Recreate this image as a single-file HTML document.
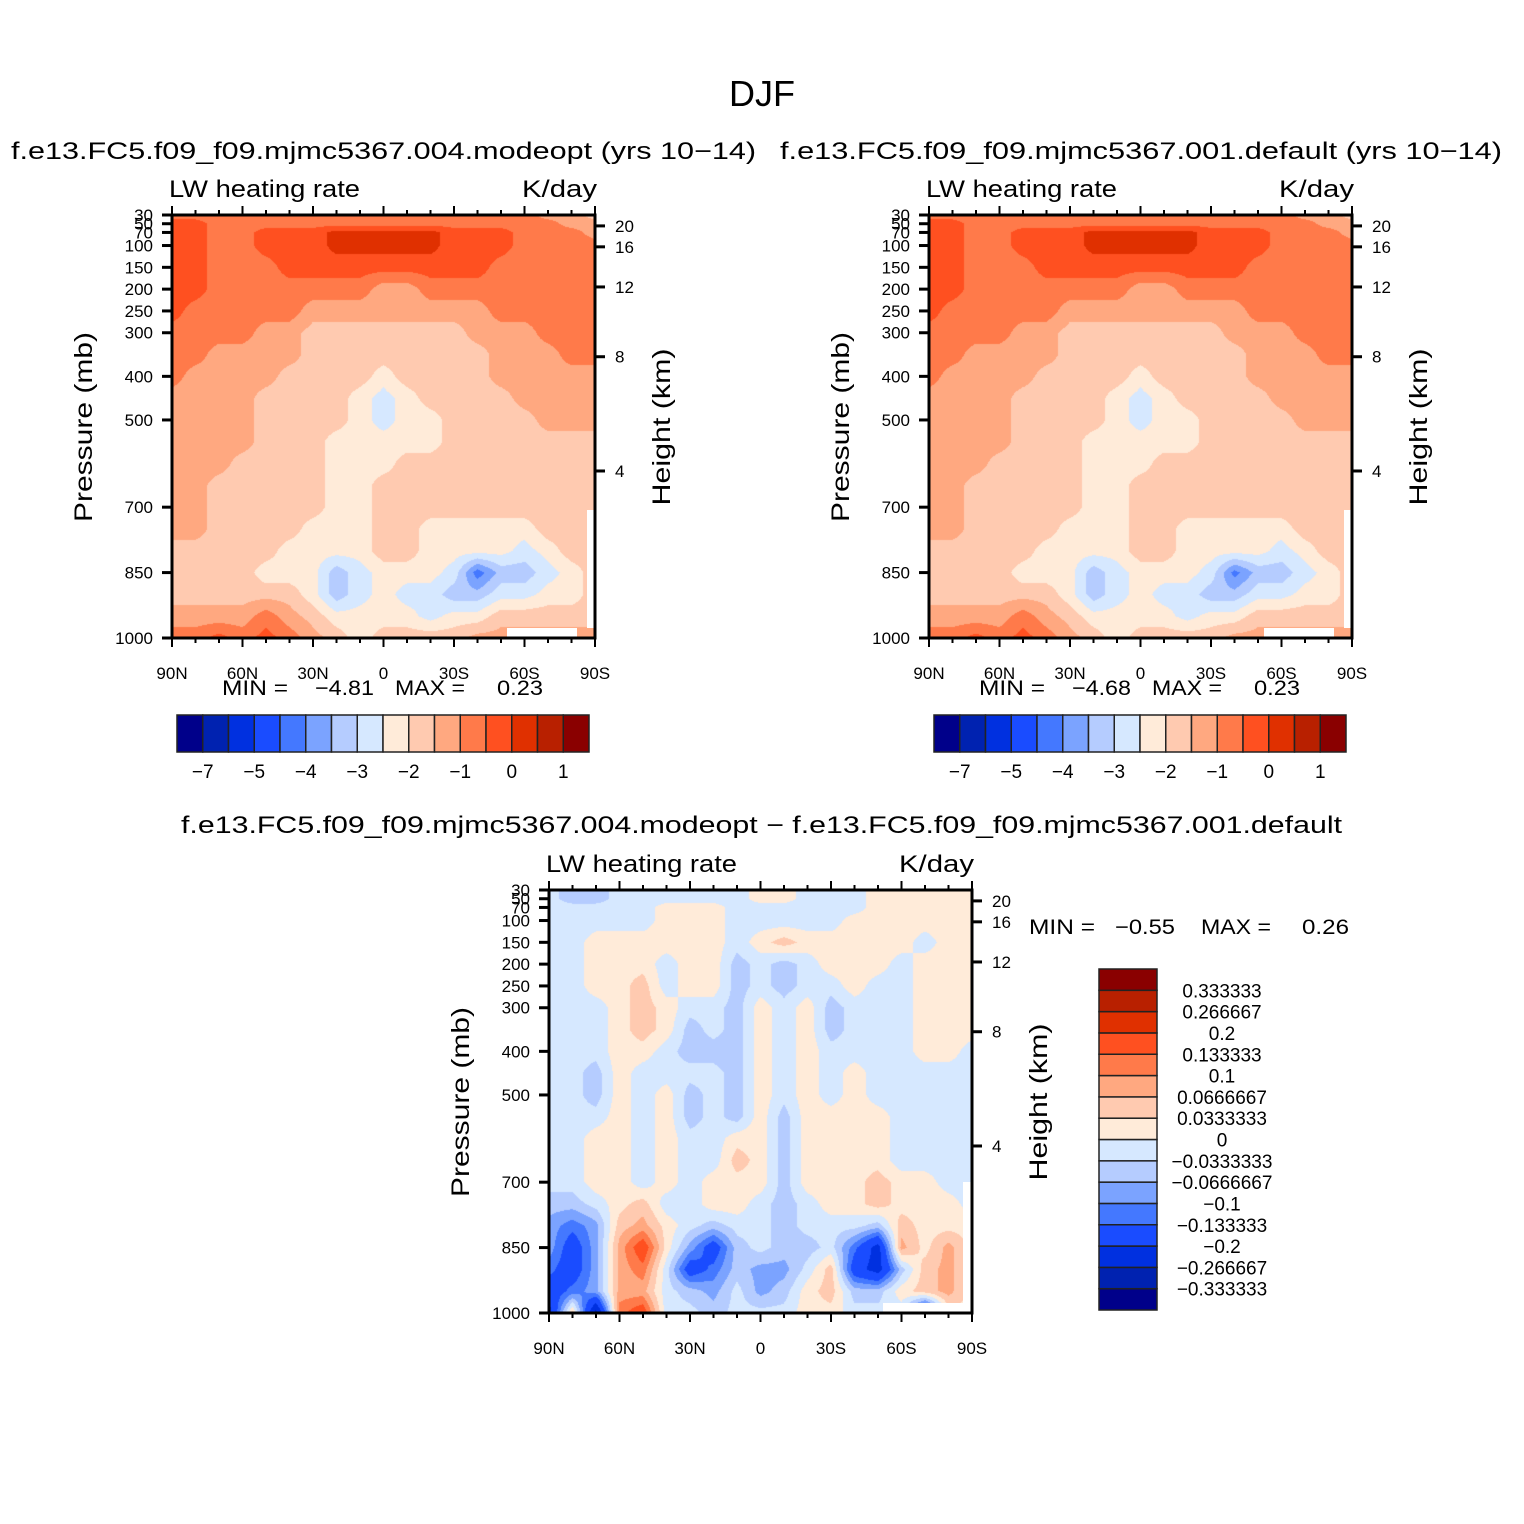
<!DOCTYPE html>
<html><head><meta charset="utf-8">
<style>
html,body{margin:0;padding:0;background:#fff;}
#root{position:relative;width:1524px;height:1524px;overflow:hidden;background:#fff;}
canvas{position:absolute;}
svg{position:absolute;left:0;top:0;}
text{font-family:"Liberation Sans",sans-serif;fill:#000;}
</style></head>
<body>
<div id="root">
<canvas id="c1" width="423" height="423" style="left:172px;top:215px"></canvas>
<canvas id="c2" width="423" height="423" style="left:929px;top:215px"></canvas>
<canvas id="c3" width="423" height="423" style="left:549px;top:890px"></canvas>
<svg id="ov" width="1524" height="1524">
<text x="762" y="106" font-size="36" text-anchor="middle">DJF</text>
<text x="11" y="159" font-size="24" textLength="745" lengthAdjust="spacingAndGlyphs">f.e13.FC5.f09_f09.mjmc5367.004.modeopt (yrs 10−14)</text>
<text x="780" y="159" font-size="24" textLength="722" lengthAdjust="spacingAndGlyphs">f.e13.FC5.f09_f09.mjmc5367.001.default (yrs 10−14)</text>
<text x="181" y="833" font-size="24" textLength="1161" lengthAdjust="spacingAndGlyphs">f.e13.FC5.f09_f09.mjmc5367.004.modeopt − f.e13.FC5.f09_f09.mjmc5367.001.default</text>
<text x="222" y="695" font-size="21" textLength="66" lengthAdjust="spacingAndGlyphs">MIN =</text>
<text x="315" y="695" font-size="21" textLength="59" lengthAdjust="spacingAndGlyphs">−4.81</text>
<text x="395" y="695" font-size="21" textLength="70" lengthAdjust="spacingAndGlyphs">MAX =</text>
<text x="497" y="695" font-size="21" textLength="46" lengthAdjust="spacingAndGlyphs">0.23</text>
<text x="979" y="695" font-size="21" textLength="66" lengthAdjust="spacingAndGlyphs">MIN =</text>
<text x="1072" y="695" font-size="21" textLength="59" lengthAdjust="spacingAndGlyphs">−4.68</text>
<text x="1152" y="695" font-size="21" textLength="70" lengthAdjust="spacingAndGlyphs">MAX =</text>
<text x="1254" y="695" font-size="21" textLength="46" lengthAdjust="spacingAndGlyphs">0.23</text>
<text x="1029" y="934" font-size="21" textLength="66" lengthAdjust="spacingAndGlyphs">MIN =</text>
<text x="1115" y="934" font-size="21" textLength="60" lengthAdjust="spacingAndGlyphs">−0.55</text>
<text x="1201" y="934" font-size="21" textLength="70" lengthAdjust="spacingAndGlyphs">MAX =</text>
<text x="1302" y="934" font-size="21" textLength="47" lengthAdjust="spacingAndGlyphs">0.26</text>
</svg>
</div>
<script>
// ---------- data ----------
const lats = [90,80,70,60,50,40,30,20,10,0,-10,-20,-30,-40,-50,-60,-70,-80,-90];
const plevs = [30,50,70,100,150,200,250,300,350,400,450,500,550,600,650,700,750,800,850,900,950,1000];
const pressureTicks = [1000,850,700,500,400,300,250,200,150,100,70,50,30];
const heightTicks = [4,8,12,16,20];
const heightTickPressures = [617,355,195,103,55];
const latTickLabels = ["90N","60N","30N","0","30S","60S","90S"];
const palette = ["#00008a","#0022b0","#0030e0","#1a4cff","#4478ff","#7ba3ff","#b5ccff","#d6e8ff","#ffebd9","#ffcab0","#ffa880","#ff7a4a","#ff5020","#e03000","#b82000","#8a0000"];
const levelsLW = [-7,-6,-5,-4.5,-4,-3.5,-3,-2.5,-2,-1.5,-1,-0.5,0,0.5,1];
const levelLabelsLW = ["−7","","−5","","−4","","−3","","−2","","−1","","0","","1"];
const levelsDiff = [-0.333333,-0.266667,-0.2,-0.133333,-0.1,-0.0666667,-0.0333333,0,0.0333333,0.0666667,0.1,0.133333,0.2,0.266667,0.333333];
const levelLabelsDiff = ["−0.333333","−0.266667","−0.2","−0.133333","−0.1","−0.0666667","−0.0333333","0","0.0333333","0.0666667","0.1","0.133333","0.2","0.266667","0.333333"];

const lwModeopt = [
[-0.7,-0.7,-0.7,-0.7,-0.7,-0.7,-0.7,-0.7,-0.7,-0.7,-0.7,-0.7,-0.7,-0.7,-0.7,-0.7,-1.3,-1.3,-1.7],
[-0.3,-0.3,-0.7,-0.7,-0.7,-0.7,-0.7,-0.7,-0.7,-0.7,-0.7,-0.7,-0.7,-0.7,-0.7,-0.7,-0.7,-1.3,-1.3],
[-0.3,-0.3,-0.7,-0.7,-0.3,-0.3,-0.3,0.2,0.2,0.2,0.2,0.2,-0.3,-0.3,-0.3,-0.7,-0.7,-0.7,-1.3],
[-0.3,-0.3,-0.7,-0.7,-0.3,-0.3,-0.3,0.2,0.2,0.2,0.2,0.2,-0.3,-0.3,-0.3,-0.7,-0.7,-0.7,-0.7],
[-0.3,-0.3,-0.7,-0.7,-0.7,-0.3,-0.3,-0.3,-0.3,-0.3,-0.3,-0.3,-0.3,-0.3,-0.7,-0.7,-0.7,-0.7,-0.7],
[-0.3,-0.3,-0.7,-0.7,-0.7,-0.7,-0.7,-0.7,-0.7,-1.3,-1.3,-0.7,-0.7,-0.7,-0.7,-0.7,-0.7,-0.7,-0.7],
[-0.3,-0.7,-0.7,-0.7,-0.7,-0.7,-1.3,-1.3,-1.3,-1.3,-1.3,-1.3,-1.3,-1.3,-0.7,-0.7,-0.7,-0.7,-0.7],
[-0.7,-0.7,-0.7,-0.7,-1.3,-1.3,-1.7,-1.7,-1.7,-1.7,-1.7,-1.7,-1.7,-1.3,-1.3,-1.3,-0.7,-0.7,-0.7],
[-0.7,-0.7,-1.3,-1.3,-1.3,-1.3,-1.7,-1.7,-1.7,-1.7,-1.7,-1.7,-1.7,-1.7,-1.3,-1.3,-1.3,-0.7,-0.7],
[-0.7,-1.3,-1.3,-1.3,-1.3,-1.7,-1.7,-1.7,-1.7,-2.3,-1.7,-1.7,-1.7,-1.7,-1.3,-1.3,-1.3,-1.3,-1.3],
[-1.3,-1.3,-1.3,-1.3,-1.7,-1.7,-1.7,-1.7,-2.3,-2.7,-2.3,-1.7,-1.7,-1.7,-1.7,-1.3,-1.3,-1.3,-1.3],
[-1.3,-1.3,-1.3,-1.3,-1.7,-1.7,-1.7,-1.7,-2.3,-2.7,-2.3,-2.3,-1.7,-1.7,-1.7,-1.7,-1.3,-1.3,-1.3],
[-1.3,-1.3,-1.3,-1.3,-1.7,-1.7,-1.7,-2.3,-2.3,-2.3,-2.3,-2.3,-1.7,-1.7,-1.7,-1.7,-1.7,-1.7,-1.7],
[-1.3,-1.3,-1.3,-1.7,-1.7,-1.7,-1.7,-2.3,-2.3,-2.3,-1.7,-1.7,-1.7,-1.7,-1.7,-1.7,-1.7,-1.7,-1.7],
[-1.3,-1.3,-1.7,-1.7,-1.7,-1.7,-1.7,-2.3,-2.3,-1.7,-1.7,-1.7,-1.7,-1.7,-1.7,-1.7,-1.7,-1.7,-1.7],
[-1.3,-1.3,-1.7,-1.7,-1.7,-1.7,-1.7,-2.3,-2.3,-1.7,-1.7,-1.7,-1.7,-1.7,-1.7,-1.7,-1.7,-1.7,-1.7],
[-1.3,-1.3,-1.7,-1.7,-1.7,-1.7,-2.3,-2.3,-2.3,-1.7,-1.7,-2.3,-2.3,-2.3,-2.3,-2.3,-1.7,-1.7,-1.7],
[-1.7,-1.7,-1.7,-1.7,-1.7,-2.3,-2.3,-2.3,-2.3,-1.7,-1.7,-2.3,-2.3,-2.3,-2.3,-2.7,-2.3,-1.7,-1.7],
[-1.7,-1.7,-1.7,-1.7,-2.3,-2.3,-2.3,-3.3,-2.7,-2.3,-2.3,-2.3,-2.7,-4.3,-3.3,-3.3,-2.7,-2.3,-1.7],
[-1.7,-1.7,-1.7,-1.7,-1.7,-1.7,-2.3,-3.3,-2.7,-2.3,-2.7,-2.7,-3.3,-3.3,-2.7,-2.7,-2.3,-2.3,-1.7],
[-1.3,-1.3,-1.3,-1.3,-0.7,-1.3,-1.7,-2.3,-2.3,-2.3,-2.3,-2.7,-2.3,-2.3,-1.7,-1.7,-1.7,-1.7,-1.7],
[-0.7,-0.7,-0.3,-0.7,-0.3,-0.7,-1.3,-1.7,-2.3,-1.7,-1.7,-1.7,-1.7,-1.3,-1.3,-1.3,-1.3,-1.3,-1.3]
];
const lwDefault = [
[-0.7,-0.7,-0.7,-0.7,-0.7,-0.7,-0.7,-0.7,-0.7,-0.7,-0.7,-0.7,-0.7,-0.7,-0.7,-0.7,-1.3,-1.3,-1.7],
[-0.3,-0.3,-0.7,-0.7,-0.7,-0.7,-0.7,-0.7,-0.7,-0.7,-0.7,-0.7,-0.7,-0.7,-0.7,-0.7,-0.7,-1.3,-1.3],
[-0.3,-0.3,-0.7,-0.7,-0.3,-0.3,-0.3,0.2,0.2,0.2,0.2,0.2,-0.3,-0.3,-0.3,-0.7,-0.7,-0.7,-1.3],
[-0.3,-0.3,-0.7,-0.7,-0.3,-0.3,-0.3,0.2,0.2,0.2,0.2,0.2,-0.3,-0.3,-0.3,-0.7,-0.7,-0.7,-0.7],
[-0.3,-0.3,-0.7,-0.7,-0.7,-0.3,-0.3,-0.3,-0.3,-0.3,-0.3,-0.3,-0.3,-0.3,-0.7,-0.7,-0.7,-0.7,-0.7],
[-0.3,-0.3,-0.7,-0.7,-0.7,-0.7,-0.7,-0.7,-0.7,-1.3,-1.3,-0.7,-0.7,-0.7,-0.7,-0.7,-0.7,-0.7,-0.7],
[-0.3,-0.7,-0.7,-0.7,-0.7,-0.7,-1.3,-1.3,-1.3,-1.3,-1.3,-1.3,-1.3,-1.3,-0.7,-0.7,-0.7,-0.7,-0.7],
[-0.7,-0.7,-0.7,-0.7,-1.3,-1.3,-1.7,-1.7,-1.7,-1.7,-1.7,-1.7,-1.7,-1.3,-1.3,-1.3,-0.7,-0.7,-0.7],
[-0.7,-0.7,-1.3,-1.3,-1.3,-1.3,-1.7,-1.7,-1.7,-1.7,-1.7,-1.7,-1.7,-1.7,-1.3,-1.3,-1.3,-0.7,-0.7],
[-0.7,-1.3,-1.3,-1.3,-1.3,-1.7,-1.7,-1.7,-1.7,-2.3,-1.7,-1.7,-1.7,-1.7,-1.3,-1.3,-1.3,-1.3,-1.3],
[-1.3,-1.3,-1.3,-1.3,-1.7,-1.7,-1.7,-1.7,-2.3,-2.7,-2.3,-1.7,-1.7,-1.7,-1.7,-1.3,-1.3,-1.3,-1.3],
[-1.3,-1.3,-1.3,-1.3,-1.7,-1.7,-1.7,-1.7,-2.3,-2.7,-2.3,-2.3,-1.7,-1.7,-1.7,-1.7,-1.3,-1.3,-1.3],
[-1.3,-1.3,-1.3,-1.3,-1.7,-1.7,-1.7,-2.3,-2.3,-2.3,-2.3,-2.3,-1.7,-1.7,-1.7,-1.7,-1.7,-1.7,-1.7],
[-1.3,-1.3,-1.3,-1.7,-1.7,-1.7,-1.7,-2.3,-2.3,-2.3,-1.7,-1.7,-1.7,-1.7,-1.7,-1.7,-1.7,-1.7,-1.7],
[-1.3,-1.3,-1.7,-1.7,-1.7,-1.7,-1.7,-2.3,-2.3,-1.7,-1.7,-1.7,-1.7,-1.7,-1.7,-1.7,-1.7,-1.7,-1.7],
[-1.3,-1.3,-1.7,-1.7,-1.7,-1.7,-1.7,-2.3,-2.3,-1.7,-1.7,-1.7,-1.7,-1.7,-1.7,-1.7,-1.7,-1.7,-1.7],
[-1.3,-1.3,-1.7,-1.7,-1.7,-1.7,-2.3,-2.3,-2.3,-1.7,-1.7,-2.3,-2.3,-2.3,-2.3,-2.3,-1.7,-1.7,-1.7],
[-1.7,-1.7,-1.7,-1.7,-1.7,-2.3,-2.3,-2.3,-2.3,-1.7,-1.7,-2.3,-2.3,-2.3,-2.3,-2.7,-2.3,-1.7,-1.7],
[-1.7,-1.7,-1.7,-1.7,-2.3,-2.3,-2.3,-3.3,-2.7,-2.3,-2.3,-2.3,-2.7,-4.2,-3.3,-3.3,-2.7,-2.3,-1.7],
[-1.7,-1.7,-1.7,-1.7,-1.7,-1.7,-2.3,-3.3,-2.7,-2.3,-2.7,-2.7,-3.3,-3.3,-2.7,-2.7,-2.3,-2.3,-1.7],
[-1.3,-1.3,-1.3,-1.3,-0.7,-1.3,-1.7,-2.3,-2.3,-2.3,-2.3,-2.7,-2.3,-2.3,-1.7,-1.7,-1.7,-1.7,-1.7],
[-0.7,-0.7,-0.3,-0.7,-0.3,-0.7,-1.3,-1.7,-2.3,-1.7,-1.7,-1.7,-1.7,-1.3,-1.3,-1.3,-1.3,-1.3,-1.3]
];
const lwDiff = [
[-0.02,-0.05,-0.05,-0.02,-0.02,-0.02,-0.02,-0.02,-0.02,0.02,0.02,-0.02,-0.02,-0.02,0.02,0.02,0.02,0.02,0.02],
[-0.02,-0.05,-0.05,-0.02,-0.02,-0.02,-0.02,-0.02,-0.02,0.02,0.02,-0.02,-0.02,-0.02,0.02,0.02,0.02,0.02,0.02],
[-0.02,-0.02,-0.02,-0.02,-0.02,0.02,0.02,0.02,-0.02,-0.02,-0.02,-0.02,-0.02,-0.02,0.02,0.02,0.02,0.02,0.02],
[-0.02,-0.02,-0.02,-0.02,-0.02,0.02,0.02,0.02,-0.02,-0.02,-0.02,-0.02,-0.02,0.02,0.02,0.02,0.02,0.02,0.02],
[-0.02,-0.02,0.02,0.02,0.02,0.02,0.02,0.02,-0.02,0.02,0.05,0.02,0.02,0.02,0.02,0.02,-0.02,0.02,0.02],
[-0.02,-0.02,0.02,0.02,0.02,-0.02,0.02,0.02,-0.05,-0.02,-0.05,-0.02,0.02,0.02,0.02,-0.02,0.02,0.02,0.02],
[-0.02,-0.02,0.02,0.02,0.05,-0.02,0.02,0.02,-0.05,-0.02,-0.05,-0.02,-0.02,0.02,-0.02,-0.02,0.02,0.02,0.02],
[-0.02,-0.02,-0.02,0.02,0.05,0.02,-0.02,-0.02,-0.05,0.02,-0.02,0.02,-0.05,-0.02,-0.02,-0.02,0.02,0.02,0.02],
[-0.02,-0.02,-0.02,0.02,0.05,0.02,-0.05,-0.02,-0.05,0.02,-0.02,0.02,-0.05,-0.02,-0.02,-0.02,0.02,0.02,0.02],
[-0.02,-0.02,-0.02,0.02,0.02,-0.02,-0.05,-0.05,-0.05,0.02,-0.02,0.02,-0.02,-0.02,-0.02,-0.02,0.02,0.02,-0.02],
[-0.02,-0.02,-0.05,0.02,-0.02,-0.02,-0.02,-0.02,-0.05,0.02,-0.02,0.02,-0.02,0.02,-0.02,-0.02,-0.02,-0.02,-0.02],
[-0.02,-0.02,-0.05,0.02,-0.02,0.02,-0.05,-0.02,-0.05,0.02,-0.02,0.02,-0.02,0.02,-0.02,-0.02,-0.02,-0.02,-0.02],
[-0.02,-0.02,-0.02,0.02,-0.02,0.02,-0.05,-0.02,-0.05,0.02,-0.05,0.02,0.02,0.02,0.02,-0.02,-0.02,-0.02,-0.02],
[-0.02,-0.02,0.02,0.02,-0.02,0.02,-0.02,-0.02,0.02,0.02,-0.05,0.02,0.02,0.02,0.02,-0.02,-0.02,-0.02,-0.02],
[-0.02,-0.02,0.02,0.02,-0.02,0.02,-0.02,-0.02,0.05,0.02,-0.05,0.02,0.02,0.02,0.02,-0.02,-0.02,-0.02,-0.02],
[-0.02,-0.02,0.02,0.02,-0.02,0.02,-0.02,0.02,0.02,0.02,-0.05,0.02,0.02,0.02,0.05,0.02,0.02,-0.02,-0.02],
[-0.05,-0.05,-0.02,0.02,0.05,-0.02,-0.02,0.02,0.02,-0.02,-0.05,-0.02,0.02,0.02,0.05,0.02,0.02,0.02,-0.02],
[-0.08,-0.12,-0.08,0.05,0.08,0.02,-0.02,-0.05,-0.02,-0.02,-0.05,-0.02,-0.02,-0.02,-0.05,0.05,0.02,0.02,0.02],
[-0.08,-0.17,-0.08,0.08,0.17,0.02,-0.08,-0.17,-0.05,-0.02,-0.05,-0.05,-0.02,-0.12,-0.23,0.08,0.02,0.08,0.02],
[-0.12,-0.17,-0.08,0.08,0.12,-0.02,-0.17,-0.12,-0.05,-0.08,-0.08,-0.02,0.05,-0.17,-0.23,-0.05,0.05,0.08,0.02],
[-0.17,-0.12,-0.08,0.08,0.08,-0.02,-0.05,-0.08,-0.02,-0.08,-0.05,0.02,0.05,-0.05,-0.05,0.02,0.05,0.08,0.02],
[-0.23,0.05,-0.3,0.12,0.17,-0.02,-0.02,-0.05,-0.02,-0.02,-0.02,0.02,0.02,-0.02,-0.02,-0.02,-0.23,0.02,0.02]
];

// ---------- drawing ----------
const NS = "http://www.w3.org/2000/svg";
const svg = document.getElementById("ov");
function mk(tag, attrs, parent){
  const e = document.createElementNS(NS, tag);
  for (const k in attrs) e.setAttribute(k, attrs[k]);
  (parent || svg).appendChild(e);
  return e;
}
const PW = 423, PH = 423;
function xOfLat(x0, lat){ return x0 + (90 - lat) / 180 * PW; }
function yOfP(y0, p){ return y0 + PH - (1000 - p) / 970 * PH; }
function colorIndex(v, levels){ let k = 0; while (k < levels.length && v >= levels[k]) k++; return k; }
function hexRGB(h){ return [parseInt(h.substr(1,2),16), parseInt(h.substr(3,2),16), parseInt(h.substr(5,2),16)]; }
const palRGB = palette.map(hexRGB);

function drawField(id, grid, levels){
  const cv = document.getElementById(id), ctx = cv.getContext("2d");
  const img = ctx.createImageData(PW, PH);
  for (let py = 0; py < PH; py++){
    const p = 30 + (py + 0.5) / PH * 970;
    let i = 0; while (i < plevs.length - 2 && p > plevs[i+1]) i++;
    const t = Math.min(1, Math.max(0, (p - plevs[i]) / (plevs[i+1] - plevs[i])));
    for (let px = 0; px < PW; px++){
      const lp = (px + 0.5) / PW * (lats.length - 1);
      let j = Math.min(lats.length - 2, Math.floor(lp));
      const s = lp - j;
      const v = (1-t)*((1-s)*grid[i][j] + s*grid[i][j+1]) + t*((1-s)*grid[i+1][j] + s*grid[i+1][j+1]);
      const c = palRGB[colorIndex(v, levels)];
      const o = (py * PW + px) * 4;
      img.data[o] = c[0]; img.data[o+1] = c[1]; img.data[o+2] = c[2]; img.data[o+3] = 255;
    }
  }
  ctx.putImageData(img, 0, 0);
}

function drawAxes(x0, y0, key){
  const g = mk("g", {});
  
  
  for (let lat = 90; lat >= -90; lat -= 10){
    const x = xOfLat(x0, lat), major = (lat % 30 === 0), L = major ? 9 : 5;
    const t1 = mk("line", {x1:x, x2:x, y1:y0, y2:y0-L, stroke:"#000", "stroke-width":2}, g);
    
    
    const t2 = mk("line", {x1:x, x2:x, y1:y0+PH, y2:y0+PH+L, stroke:"#000", "stroke-width":2}, g);
    
    
  }
  latTickLabels.forEach((lab, k) => {
    const tx = mk("text", {x:xOfLat(x0, 90 - 30*k), y:y0+PH+41, "font-size":17, "text-anchor":"middle"}, g);
    tx.textContent = lab;
    
    
  });
  pressureTicks.forEach(p => {
    const y = yOfP(y0, p);
    const t = mk("line", {x1:x0-10, x2:x0, y1:y, y2:y, stroke:"#000", "stroke-width":3}, g);
    
    
    const tx = mk("text", {x:x0-19, y:y+6, "font-size":17, "text-anchor":"end"}, g);
    tx.textContent = String(p);
    
    
  });
  heightTicks.forEach((h, k) => {
    const y = yOfP(y0, heightTickPressures[k]);
    const t = mk("line", {x1:x0+PW, x2:x0+PW+10, y1:y, y2:y, stroke:"#000", "stroke-width":3}, g);
    
    
    const tx = mk("text", {x:x0+PW+20, y:y+6, "font-size":17}, g);
    tx.textContent = String(h);
    
    
  });
  const fr = mk("rect", {x:x0, y:y0, width:PW, height:PH, fill:"none", stroke:"#000", "stroke-width":3}, g);
  
  
  const yt = mk("text", {x:0, y:0, "font-size":25, "text-anchor":"middle", textLength:190, lengthAdjust:"spacingAndGlyphs", transform:"translate("+(x0-80)+","+(y0+212)+") rotate(-90)"}, g);
  yt.textContent = "Pressure (mb)";
  
  
  const ht = mk("text", {x:0, y:0, "font-size":25, "text-anchor":"middle", textLength:157, lengthAdjust:"spacingAndGlyphs", transform:"translate("+(x0+498)+","+(y0+212)+") rotate(-90)"}, g);
  ht.textContent = "Height (km)";
  
  
  const lt = mk("text", {x:x0-3, y:y0-18, "font-size":24, textLength:191, lengthAdjust:"spacingAndGlyphs"}, g);
  lt.textContent = "LW heating rate";
  
  
  const ut = mk("text", {x:x0+350, y:y0-18, "font-size":24, textLength:75, lengthAdjust:"spacingAndGlyphs"}, g);
  ut.textContent = "K/day";
  
  
}

function hColorbar(x0, y0, key){
  const g = mk("g", {});
  
  
  const w = 412 / palette.length;
  palette.forEach((c, k) => {
    const r = mk("rect", {x:x0 + k*w, y:y0, width:w, height:37, fill:c, stroke:"#222", "stroke-width":1.5}, g);
    
    
  });
  levelLabelsLW.forEach((lab, k) => {
    if (!lab) return;
    const tx = mk("text", {x:x0 + (k+1)*w, y:y0+63, "font-size":19, "text-anchor":"middle"}, g);
    tx.textContent = lab;
    
    
  });
}

function vColorbar(x0, y0){
  const g = mk("g", {});
  
  
  const h = 341 / palette.length;
  palette.forEach((c, k) => {
    const r = mk("rect", {x:x0, y:y0 + (palette.length-1-k)*h, width:58, height:h, fill:c, stroke:"#222", "stroke-width":1.5}, g);
    
    
  });
  levelLabelsDiff.forEach((lab, k) => {
    const tx = mk("text", {x:1222, y:y0 + (palette.length-1-k)*h + 7, "font-size":19, "text-anchor":"middle"}, g);
    tx.textContent = lab;
    
    
  });
}

drawField("c1", lwModeopt, levelsLW);
drawField("c2", lwDefault, levelsLW);
drawField("c3", lwDiff, levelsDiff);

[[507,628,70,10],[587,510,7,118],[1264,628,70,10],[1344,510,7,118],[883,1303,89,10],[963,1182,9,121]].forEach(r => {
  const m = mk("rect", {x:r[0], y:r[1], width:r[2], height:r[3], fill:"#fff"});
  
  
});

drawAxes(172, 215, "modeopt");
drawAxes(929, 215, "default");
drawAxes(549, 890, "difference");
hColorbar(177, 715, "modeopt");
hColorbar(934, 715, "default");
vColorbar(1099, 969);
</script>
</body></html>
